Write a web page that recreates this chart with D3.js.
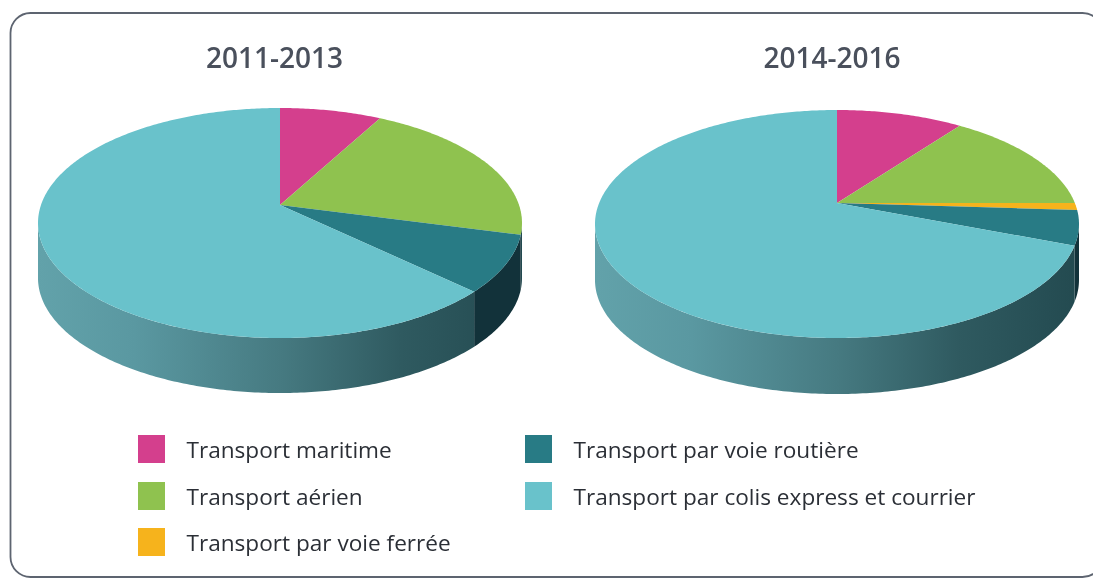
<!DOCTYPE html>
<html><head><meta charset="utf-8">
<script src="https://cdn.jsdelivr.net/npm/d3@7"></script>
<style>html,body{margin:0;padding:0;background:#fff;overflow:hidden}svg{display:block;filter:blur(0.45px)}text{font-family:"Open Sans",sans-serif}</style>
</head><body><svg id="c" width="1093" height="578"></svg>
<script>
const categories=["Transport maritime","Transport aérien","Transport par voie ferrée","Transport par voie routière","Transport par colis express et courrier"];
const colors=["#d43f8d","#8fc24f","#f6b31c","#287b85","#69c2cb"];
const sideColors=[null,null,null,"#12323a",null];
const periods=["2011-2013","2014-2016"];
const values2011=[7.9,21.2,0,8.0,62.9];
const values2014=[10.1,14.9,1.0,4.9,69.1];
const svg=d3.select("#c");
const defs=svg.append("defs");
svg.append("rect").attr("x",10.5).attr("y",13).attr("width",1092).attr("height",564).attr("rx",20).attr("fill","#fff").attr("stroke","#5d6470").attr("stroke-width",1.8);
const pieGen=d3.pie().sort(null).value(d=>d);
const geom=[
 {cx:280,top:108,mid:205,bot:338,rx:242,h:55,titleX:274.5},
 {cx:837,top:110,mid:203,bot:338,rx:242,h:56,titleX:832}
];
function projector(g){
  // central projection of a tilted disc: the centre of the disc sits above the ellipse centre
  const c=(g.top+g.bot-2*g.mid)/(g.top-g.bot);
  const b=g.bot+g.bot*c-g.mid;
  const R=g.rx*Math.sqrt(1-c*c);
  const p=a=>{const x=Math.sin(a),y=-Math.cos(a),w=1+c*y;return [g.cx+R*x/w,(g.mid+b*y)/w];};
  const ext=Math.asin(Math.abs(c));
  return {p,aR:Math.PI/2+ext,aL:3*Math.PI/2-ext};
}
function arcPts(p,a0,a1){const n=Math.max(2,Math.ceil((a1-a0)*80));return d3.range(n+1).map(i=>p(a0+(a1-a0)*i/n));}
const line=d3.line();
[values2011,values2014].forEach((vals,k)=>{
  const g=geom[k],P=projector(g),G=svg.append("g");
  const grad=defs.append("linearGradient").attr("id","side"+k).attr("gradientUnits","userSpaceOnUse")
    .attr("x1",g.cx-g.rx).attr("x2",g.cx+g.rx).attr("y1",0).attr("y2",0);
  [[0,"#62a2aa"],[0.2,"#5a98a1"],[0.5,"#467a81"],[0.75,"#2f5a60"],[1,"#234a50"]].forEach(s=>grad.append("stop").attr("offset",s[0]).attr("stop-color",s[1]));
  const arcs=pieGen(vals);
  arcs.forEach((d,i)=>{
    const a0=Math.max(d.startAngle,P.aR),a1=Math.min(d.endAngle,P.aL);
    if(a1<=a0)return;
    const top=arcPts(P.p,a0,a1),bottom=top.map(q=>[q[0],q[1]+g.h]).reverse();
    G.append("path").attr("d",line(top.concat(bottom))+"Z").attr("fill",sideColors[i]||`url(#side${k})`);
  });
  arcs.forEach((d,i)=>{
    if(d.endAngle-d.startAngle<=0)return;
    const pts=[[g.cx,g.mid]].concat(arcPts(P.p,d.startAngle,d.endAngle));
    G.append("path").attr("d",line(pts)+"Z").attr("fill",colors[i]);
  });
  svg.append("text").attr("x",g.titleX).attr("y",68).attr("text-anchor","middle")
    .attr("font-size",28).attr("font-weight",600).attr("fill","#4a505c").text(periods[k]);
});
const legendPos=[[138,435],[138,482],[138,528],[525,435],[525,482]];
categories.forEach((c,i)=>{
  const [x,y]=legendPos[i];
  svg.append("rect").attr("x",x).attr("y",y).attr("width",27).attr("height",28).attr("fill",colors[i]);
  svg.append("text").attr("x",x+48.5).attr("y",y+23).attr("font-size",22.6).attr("fill","#2b2f36").text(c);
});
</script></body></html>
